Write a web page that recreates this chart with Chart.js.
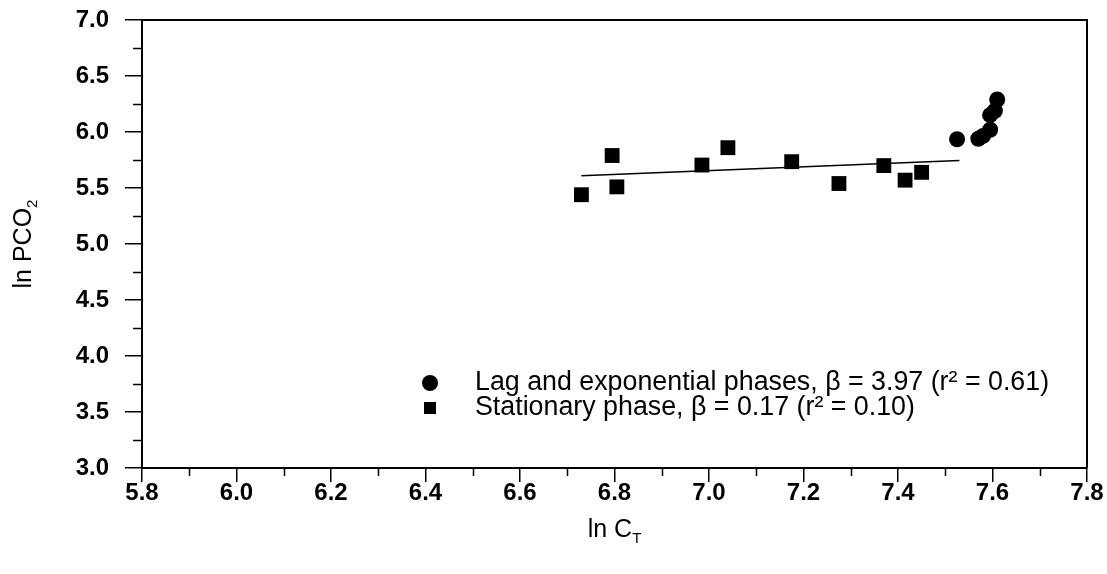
<!DOCTYPE html>
<html>
<head>
<meta charset="utf-8">
<title>ln PCO2 vs ln CT</title>
<script src="https://cdn.jsdelivr.net/npm/chart.js@4.4.0/dist/chart.umd.min.js"></script>
<style>
    html, body { margin: 0; padding: 0; background: #fff; }
    #wrap { width: 1107px; height: 574px; }
</style>
</head>
<body>
<div id="wrap"><canvas id="phaseChart" width="1107" height="574"></canvas></div>
<script>
// ===== DATA =====
const lagX = [7.525, 7.570, 7.580, 7.595, 7.595, 7.605, 7.610];
const lagY = [5.935, 5.94, 5.965, 6.02, 6.15, 6.19, 6.29];

const statX = [6.73, 6.795, 6.805, 6.985, 7.04, 7.175, 7.275, 7.37, 7.415, 7.45];
const statY = [5.44, 5.79, 5.51, 5.705, 5.86, 5.735, 5.54, 5.70, 5.57, 5.64];

// stationary phase regression, slope beta = 0.17
const fitX = [6.73, 7.53];
const fitBeta = 0.17;
const fitStartY = 5.61;

const xTicks = [5.8, 6.0, 6.2, 6.4, 6.6, 6.8, 7.0, 7.2, 7.4, 7.6, 7.8];
const yTicks = [3.0, 3.5, 4.0, 4.5, 5.0, 5.5, 6.0, 6.5, 7.0];

const legendLabels = [
    'Lag and exponential phases, \u03B2 = 3.97 (r\u00B2 = 0.61)',
    'Stationary phase, \u03B2 = 0.17 (r\u00B2 = 0.10)'
];

const FONT = "'Liberation Sans', Arial, sans-serif";

// ===== PLUGINS =====
// box frame, minor ticks, axis titles with subscripts, legend inside the plot
const axisDecor = {
    id: 'axisDecor',
    afterDraw(chart) {
        const { ctx, chartArea: a, scales: { x, y } } = chart;
        ctx.save();
        ctx.strokeStyle = '#000';

        // top and right frame
        ctx.lineWidth = 2;
        ctx.beginPath();
        ctx.moveTo(a.left, a.top);
        ctx.lineTo(a.right, a.top);
        ctx.lineTo(a.right, a.bottom);
        ctx.stroke();

        // minor ticks halfway between majors
        ctx.lineWidth = 1.5;
        ctx.beginPath();
        for (let i = 0; i < xTicks.length - 1; i++) {
            const px = Math.round(x.getPixelForValue((xTicks[i] + xTicks[i + 1]) / 2)) + 0.5;
            ctx.moveTo(px, a.bottom);
            ctx.lineTo(px, a.bottom + 8);
        }
        for (let i = 0; i < yTicks.length - 1; i++) {
            const py = Math.round(y.getPixelForValue((yTicks[i] + yTicks[i + 1]) / 2)) + 0.5;
            ctx.moveTo(a.left, py);
            ctx.lineTo(a.left - 9, py);
        }
        ctx.stroke();

        ctx.fillStyle = '#000';
        ctx.textBaseline = 'alphabetic';
        ctx.textAlign = 'left';

        // x axis title: ln C_T
        ctx.font = '25px ' + FONT;
        const xMain = 'ln C';
        const wMain = ctx.measureText(xMain).width;
        ctx.font = '15px ' + FONT;
        const wSub = ctx.measureText('T').width;
        const xStart = (a.left + a.right) / 2 - (wMain + wSub) / 2;
        ctx.font = '25px ' + FONT;
        ctx.fillText(xMain, xStart, 537);
        ctx.font = '15px ' + FONT;
        ctx.fillText('T', xStart + wMain, 543);

        // y axis title: ln PCO2, rotated
        ctx.save();
        ctx.translate(31, (a.top + a.bottom) / 2);
        ctx.rotate(-Math.PI / 2);
        ctx.font = '25px ' + FONT;
        const yMain = 'ln PCO';
        const ywMain = ctx.measureText(yMain).width;
        ctx.font = '15px ' + FONT;
        const ywSub = ctx.measureText('2').width;
        const yStart = -(ywMain + ywSub) / 2;
        ctx.font = '25px ' + FONT;
        ctx.fillText(yMain, yStart, 0);
        ctx.font = '15px ' + FONT;
        ctx.fillText('2', yStart + ywMain, 6);
        ctx.restore();

        // legend
        const lx = a.left + 288;
        const rows = [a.bottom - 85, a.bottom - 60];
        ctx.beginPath();
        ctx.arc(lx, rows[0], 8, 0, Math.PI * 2);
        ctx.fill();
        ctx.fillRect(lx - 6, rows[1] - 6, 12, 12);
        ctx.font = '26.8px ' + FONT;
        ctx.textBaseline = 'middle';
        ctx.fillText(legendLabels[0], lx + 45, rows[0]);
        ctx.fillText(legendLabels[1], lx + 45, rows[1]);

        ctx.restore();
    }
};

// ===== CHART =====
function initPhaseChart() {
    const ctx = document.getElementById('phaseChart');
    if (!ctx || typeof Chart === 'undefined') return;

    const lagPoints = lagX.map((v, i) => ({ x: v, y: lagY[i] }));
    const statPoints = statX.map((v, i) => ({ x: v, y: statY[i] }));
    const fitPoints = fitX.map(v => ({ x: v, y: fitStartY + fitBeta * (v - fitX[0]) }));

    new Chart(ctx, {
        type: 'scatter',
        data: {
            datasets: [{
                label: legendLabels[1],
                data: statPoints,
                pointStyle: 'rect',
                pointRadius: 10.5,
                backgroundColor: '#000',
                borderColor: '#000',
                borderWidth: 0
            }, {
                label: 'fit',
                data: fitPoints,
                showLine: true,
                pointRadius: 0,
                borderColor: '#000',
                borderWidth: 1.6
            }, {
                label: legendLabels[0],
                data: lagPoints,
                pointStyle: 'circle',
                pointRadius: 8,
                backgroundColor: '#000',
                borderColor: '#000',
                borderWidth: 0
            }]
        },
        options: {
            responsive: false,
            animation: false,
            layout: {
                padding: { top: 20, right: 20, left: 0, bottom: 0 }
            },
            plugins: {
                legend: { display: false },
                tooltip: { enabled: false }
            },
            scales: {
                x: {
                    type: 'linear',
                    min: 5.8,
                    max: 7.8,
                    afterBuildTicks: function (scale) {
                        scale.ticks = xTicks.map(v => ({ value: v }));
                    },
                    afterFit: function (scale) {
                        scale.height = 106;
                        scale.paddingLeft = 0;
                        scale.paddingRight = 0;
                    },
                    border: { color: '#000', width: 2 },
                    grid: {
                        drawOnChartArea: false,
                        drawTicks: true,
                        tickLength: 14,
                        color: '#000',
                        lineWidth: 1.5
                    },
                    ticks: {
                        color: '#000',
                        padding: -3,
                        maxRotation: 0,
                        autoSkip: false,
                        font: { family: FONT, size: 24, weight: 'bold' },
                        callback: function (value) {
                            return Number(value).toFixed(1);
                        }
                    }
                },
                y: {
                    type: 'linear',
                    min: 3,
                    max: 7,
                    afterBuildTicks: function (scale) {
                        scale.ticks = yTicks.map(v => ({ value: v }));
                    },
                    afterFit: function (scale) {
                        scale.width = 142;
                        scale.paddingTop = 0;
                        scale.paddingBottom = 0;
                    },
                    border: { color: '#000', width: 2 },
                    grid: {
                        drawOnChartArea: false,
                        drawTicks: true,
                        tickLength: 17,
                        color: '#000',
                        lineWidth: 1.5
                    },
                    ticks: {
                        color: '#000',
                        padding: 16,
                        autoSkip: false,
                        font: { family: FONT, size: 24, weight: 'bold' },
                        callback: function (value) {
                            return Number(value).toFixed(1);
                        }
                    }
                }
            }
        },
        plugins: [axisDecor]
    });
}

initPhaseChart();
</script>
</body>
</html>
